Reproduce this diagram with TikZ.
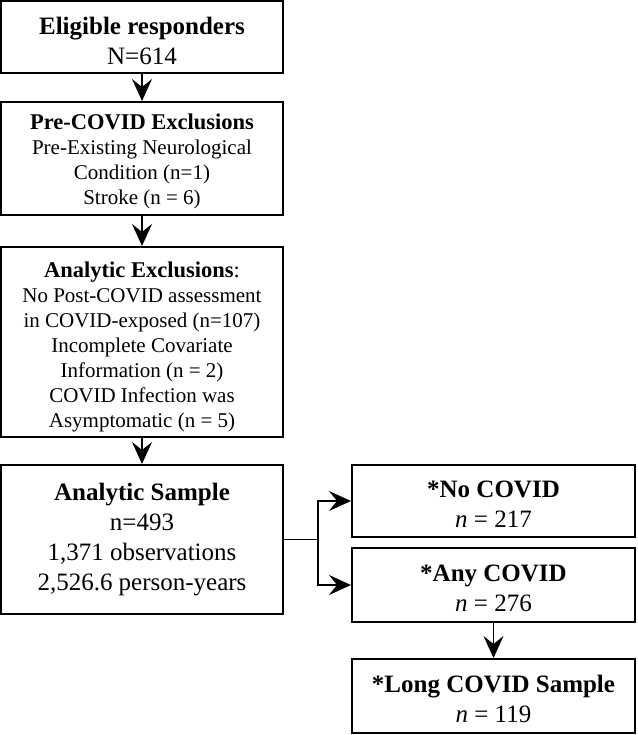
\documentclass[tikz,border=0pt]{standalone}
\usepackage{fontspec}
\setmainfont{Liberation Serif}
\usetikzlibrary{arrows.meta}
\tikzset{
  box/.style={draw, line width=2pt, inner sep=0pt, anchor=center},
  txt/.style={inner sep=0pt, align=center, anchor=center},
  bigtext/.style={font=\fontsize{25}{30}\selectfont},
  smalltext/.style={font=\fontsize{21}{25}\selectfont},
  conn/.style={line width=1.9pt},
  arr/.style={conn, -{Stealth[length=22pt, width=20pt, inset=8pt]}}
}
\begin{document}
\begin{tikzpicture}[x=1pt, y=-1pt]
\useasboundingbox (0,0) rectangle (637,735);
% boxes
\node[box, minimum width=282pt, minimum height=72pt] (b1) at (142,37) {};
\node[box, minimum width=282pt, minimum height=113pt] (b2) at (142,158.5) {};
\node[box, minimum width=282pt, minimum height=190pt] (b3) at (142,342) {};
\node[box, minimum width=282pt, minimum height=149pt] (b4) at (142,539.5) {};
\node[box, minimum width=283pt, minimum height=72pt] (r1) at (493.5,501) {};
\node[box, minimum width=283pt, minimum height=74pt] (r2) at (493.5,585) {};
\node[box, minimum width=283pt, minimum height=74pt] (r3) at (493.5,696) {};
% texts
\node[txt, bigtext, yshift=-3.5pt] (t1) at (b1.center)
  {\textbf{Eligible responders}\\N=614};
\node[txt, smalltext, yshift=-3pt] (t2) at (b2.center)
  {{\fontsize{22.5}{25}\selectfont\textbf{Pre-COVID Exclusions}}\\Pre-Existing Neurological\\Condition (n=1)\\Stroke (n = 6)};
\node[txt, smalltext, yshift=-4.5pt] (t3) at (b3.center)
  {{\fontsize{22.5}{25}\selectfont\textbf{Analytic Exclusions}:}\\No Post-COVID assessment\\in COVID-exposed (n=107)\\Incomplete Covariate\\Information (n = 2)\\COVID Infection was\\Asymptomatic (n = 5)};
\node[txt, bigtext, yshift=-0.5pt] (t4) at (b4.center)
  {\textbf{Analytic Sample}\\n=493\\1,371 observations\\2,526.6 person-years};
\node[txt, bigtext, yshift=-3.5pt] (t5) at (r1.center)
  {\textbf{*No COVID}\\\textit{n} = 217};
\node[txt, bigtext, yshift=-3pt] (t6) at (r2.center)
  {\textbf{*Any COVID}\\\textit{n} = 276};
\node[txt, bigtext, yshift=-3pt] (t7) at (r3.center)
  {\textbf{*Long COVID Sample}\\\textit{n} = 119};
% connectors
\coordinate (j) at (318,539.5);
\draw[arr] (b1.south) -- (b2.north);
\draw[arr] (b2.south) -- (b3.north);
\draw[arr] (b3.south) -- (b4.north);
\draw[conn] (b4.east) -- (j);
\draw[arr] (j) |- (r1.west);
\draw[arr] (j) |- (r2.west);
\draw[arr] (r2.south) -- (r3.north);
\end{tikzpicture}
\end{document}
